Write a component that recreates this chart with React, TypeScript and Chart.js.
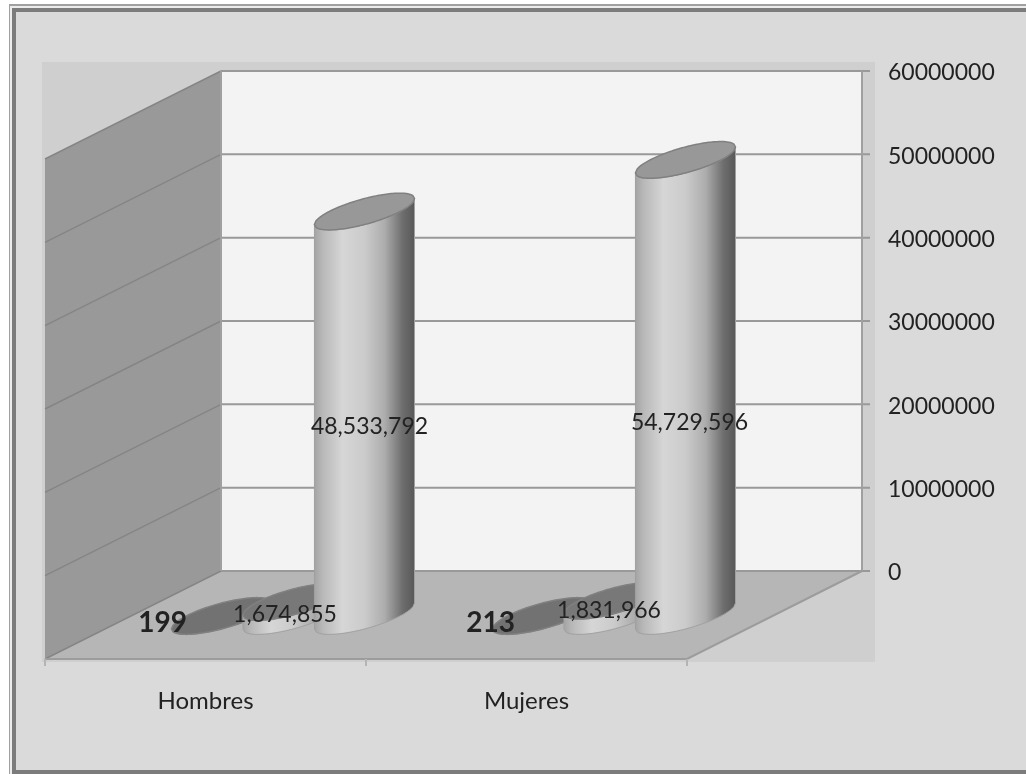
import React, { useEffect, useRef } from "react";
import { Chart, registerables } from "chart.js";

Chart.register(...registerables);

const categories = ["Hombres", "Mujeres"];
const seriesA = [199, 213];
const seriesB = [1674855, 1831966];
const seriesC = [48533792, 54729596];
const labelTextA = ["199", "213"];
const labelTextB = ["1,674,855", "1,831,966"];
const labelTextC = ["48,533,792", "54,729,596"];
const yMax = 60000000;
const yStep = 10000000;

const FONT = "Lato, sans-serif";
const INK = "#222222";
const DEPTH_X = 175; // projected depth of the 3-D box
const DEPTH_Y = 88;
const BAR_SHIFT_X = DEPTH_X / 2; // bars stand half way into the box
const BAR_SHIFT_Y = 45;
const SKEW = -13;
const MINOR = 13;

const seriesStyle = [
  { top: "#727272", texts: labelTextA, bold: true, size: 28, nudge: [[-59, 7], [-52, 7]] },
  { top: "#787878", texts: labelTextB, bold: false, size: 23, nudge: [[-8, 6], [-5, 2]] },
  { top: "#989898", texts: labelTextC, bold: false, size: 23, nudge: [[5, 13], [4, 35]] },
];

function edge(cx: number, cy: number, r: number, sign: number, forward: boolean) {
  const pts: [number, number][] = [];
  const n = 60;
  for (let i = 0; i <= n; i++) {
    const s = forward ? -1 + (2 * i) / n : 1 - (2 * i) / n;
    pts.push([cx + r * s, cy + SKEW * s + sign * MINOR * Math.sqrt(Math.max(0, 1 - s * s))]);
  }
  return pts;
}

const scenePlugin = {
  id: "scene",
  beforeDraw(chart: any) {
    const { ctx, scales } = chart;
    const y = scales.y;
    const x = scales.x;
    const W = chart.width;
    const H = chart.height;
    const left = x.left;
    const frontRight = x.right;
    const backLeft = left + DEPTH_X + 1;
    const backRight = frontRight + DEPTH_X;
    const y0 = y.getPixelForValue(0);
    const yTop = y.getPixelForValue(yMax);
    const floorFront = y0 + DEPTH_Y;

    // Lato digits sit a little high: centre the axis labels on their gridlines
    y.getLabelItems(chart.chartArea).forEach((it: any) => {
      it.textOffset = 2;
    });

    ctx.save();
    ctx.fillStyle = "#ffffff";
    ctx.fillRect(0, 0, W, H);
    ctx.fillStyle = "#a0a0a0";
    ctx.fillRect(9, 4, W - 9, H - 4);
    ctx.fillStyle = "#ececec";
    ctx.fillRect(10, 6, W - 10, H - 6);
    ctx.fillStyle = "#7c7c7c";
    ctx.fillRect(12, 8, W - 12, H - 8);
    ctx.fillStyle = "#dadada";
    ctx.fillRect(16, 12, W - 16, H - 16);

    ctx.fillStyle = "#cfcfcf";
    ctx.fillRect(42, 62, 833, 600);

    ctx.fillStyle = "#f3f3f3";
    ctx.fillRect(backLeft, yTop, backRight - backLeft, y0 - yTop);

    ctx.fillStyle = "#999999";
    ctx.beginPath();
    ctx.moveTo(backLeft, yTop);
    ctx.lineTo(left, yTop + DEPTH_Y);
    ctx.lineTo(left, floorFront);
    ctx.lineTo(backLeft, y0);
    ctx.closePath();
    ctx.fill();

    ctx.fillStyle = "#b6b6b6";
    ctx.beginPath();
    ctx.moveTo(backLeft, y0);
    ctx.lineTo(backRight, y0);
    ctx.lineTo(frontRight, floorFront);
    ctx.lineTo(left, floorFront);
    ctx.closePath();
    ctx.fill();

    // gridlines follow the value axis around the walls
    ctx.lineWidth = 2;
    for (const tick of y.ticks) {
      const py = y.getPixelForValue(tick.value);
      ctx.strokeStyle = "#999999";
      ctx.beginPath();
      ctx.moveTo(backLeft, py);
      ctx.lineTo(backRight + 8, py);
      ctx.stroke();
      ctx.strokeStyle = "#858585";
      ctx.lineWidth = 1.5;
      ctx.beginPath();
      ctx.moveTo(backLeft, py);
      ctx.lineTo(left, py + DEPTH_Y);
      ctx.stroke();
      ctx.lineWidth = 2;
    }
    ctx.strokeStyle = "#a0a0a0";
    ctx.beginPath();
    ctx.moveTo(backRight, yTop);
    ctx.lineTo(backRight, y0);
    ctx.moveTo(backLeft, yTop);
    ctx.lineTo(backLeft, y0);
    ctx.stroke();
    ctx.strokeStyle = "#9c9c9c";
    ctx.beginPath();
    ctx.moveTo(left, floorFront);
    ctx.lineTo(frontRight, floorFront);
    ctx.lineTo(backRight, y0);
    ctx.stroke();
    ctx.strokeStyle = "#b4b4b4";
    ctx.beginPath();
    const band = (frontRight - left) / categories.length;
    for (let i = 0; i <= categories.length; i++) {
      const px = left + band * i;
      ctx.moveTo(px, floorFront);
      ctx.lineTo(px, floorFront + 7);
    }
    ctx.stroke();
    ctx.restore();
  },
  afterDatasetsDraw(chart: any) {
    const { ctx } = chart;
    ctx.save();
    chart.data.datasets.forEach((_: any, di: number) => {
      const meta = chart.getDatasetMeta(di);
      meta.data.forEach((bar: any) => {
        const { x, y, base, width } = bar.getProps(["x", "y", "base", "width"], true);
        const cx = x + BAR_SHIFT_X;
        const r = width / 2;
        const topY = y + BAR_SHIFT_Y;
        const baseY = base + BAR_SHIFT_Y;
        const g = ctx.createLinearGradient(cx - r, 0, cx + r, 0);
        g.addColorStop(0, "#a4a4a4");
        g.addColorStop(0.08, "#b8b8b8");
        g.addColorStop(0.28, "#d6d6d6");
        g.addColorStop(0.5, "#cbcbcb");
        g.addColorStop(0.7, "#adadad");
        g.addColorStop(0.88, "#6e6e6e");
        g.addColorStop(1, "#585858");

        // side
        ctx.beginPath();
        edge(cx, baseY, r, 1, true).forEach(([a, b], i) => (i ? ctx.lineTo(a, b) : ctx.moveTo(a, b)));
        edge(cx, topY, r, 1, false).forEach(([a, b]) => ctx.lineTo(a, b));
        ctx.closePath();
        ctx.fillStyle = g;
        ctx.fill();
        ctx.strokeStyle = "#a0a0a0";
        ctx.lineWidth = 1;
        ctx.stroke();

        // top face
        ctx.beginPath();
        edge(cx, topY, r, 1, true).forEach(([a, b], i) => (i ? ctx.lineTo(a, b) : ctx.moveTo(a, b)));
        edge(cx, topY, r, -1, false).forEach(([a, b]) => ctx.lineTo(a, b));
        ctx.closePath();
        ctx.fillStyle = seriesStyle[di].top;
        ctx.fill();
        ctx.strokeStyle = "#808080";
        ctx.lineWidth = 1.5;
        ctx.stroke();
      });
    });

    // value labels sit on top of all cylinders
    ctx.textAlign = "center";
    ctx.textBaseline = "middle";
    ctx.fillStyle = INK;
    chart.data.datasets.forEach((_: any, di: number) => {
      const st = seriesStyle[di];
      ctx.font = `${st.bold ? "bold " : ""}${st.size}px ${FONT}`;
      chart.getDatasetMeta(di).data.forEach((bar: any, i: number) => {
        const { x, y, base } = bar.getProps(["x", "y", "base"], true);
        const midY = (y + base) / 2 + BAR_SHIFT_Y;
        ctx.fillText(st.texts[i], x + BAR_SHIFT_X + st.nudge[i][0], midY + st.nudge[i][1]);
      });
    });
    ctx.restore();
  },
};

export default function App() {
  const ref = useRef<HTMLCanvasElement>(null);
  useEffect(() => {
    const chart = new Chart(ref.current as HTMLCanvasElement, {
      type: "bar",
      data: {
        labels: categories,
        datasets: [seriesA, seriesB, seriesC].map((data) => ({
          data,
          backgroundColor: "transparent",
          borderWidth: 0,
          categoryPercentage: 0.668,
          barPercentage: 1.4,
        })),
      },
      options: {
        responsive: false,
        animation: false,
        layout: { padding: { left: 45, top: 71, right: 0, bottom: 0 } },
        plugins: { legend: { display: false }, tooltip: { enabled: false } },
        scales: {
          x: {
            grid: { display: false, drawTicks: false },
            border: { display: false },
            ticks: { padding: 116, color: INK, font: { family: FONT, size: 24 }, maxRotation: 0 },
            afterFit: (s: any) => {
              s.height = 203;
              s.paddingLeft = 0;
              s.paddingRight = 0;
            },
          },
          y: {
            position: "right",
            min: 0,
            max: yMax,
            grid: { display: false, drawTicks: false },
            border: { display: false },
            ticks: {
              stepSize: yStep,
              padding: 201,
              color: INK,
              font: { family: FONT, size: 23 },
              callback: (v: any) => String(v),
            },
            afterFit: (s: any) => {
              s.width = 339;
              s.paddingTop = 0;
              s.paddingBottom = 0;
            },
          },
        },
      },
      plugins: [scenePlugin],
    } as any);
    return () => chart.destroy();
  }, []);
  return (
    <div style={{ position: "fixed", left: 0, top: 0, width: 1026, height: 774 }}>
      <canvas ref={ref} width={1026} height={774} style={{ display: "block" }} />
    </div>
  );
}
